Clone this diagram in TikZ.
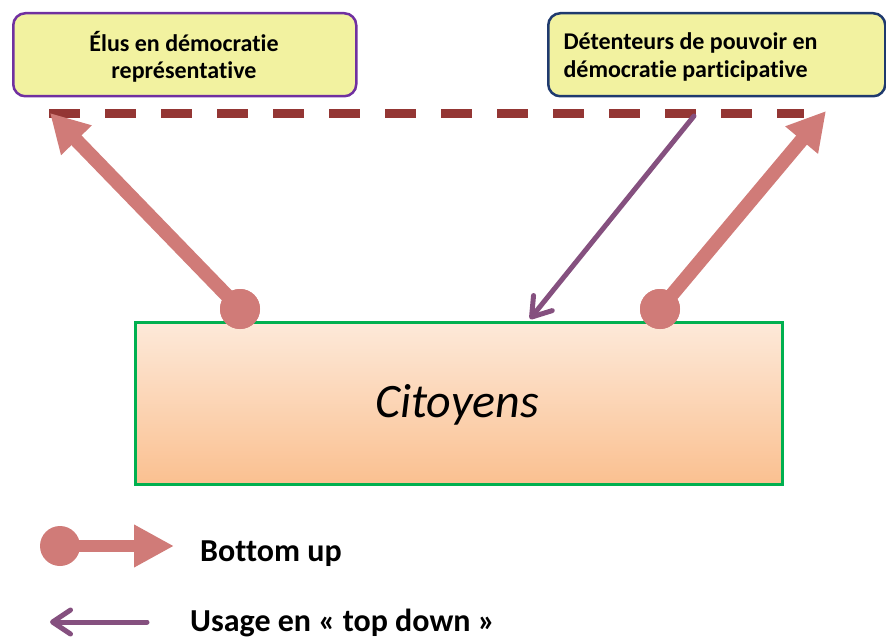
\documentclass[tikz,border=0pt]{standalone}
\usepackage{fontspec}
\setmainfont{Carlito}[Ligatures={NoCommon}]
\usetikzlibrary{arrows.meta}
\definecolor{boxfill}{HTML}{F2F2A0}
\definecolor{elusborder}{HTML}{7030A0}
\definecolor{detborder}{HTML}{1F3A6E}
\definecolor{dashred}{HTML}{943634}
\definecolor{pinkarr}{HTML}{D07B78}
\definecolor{purparr}{HTML}{85507F}
\definecolor{citborder}{HTML}{00B050}
\definecolor{cittop}{HTML}{FDE9D9}
\definecolor{citbot}{HTML}{FAC090}
\tikzset{
  topbox/.style={rectangle, rounded corners=12pt, fill=boxfill, line width=2.5pt, anchor=north west, inner sep=0pt},
  boxtext/.style={font=\fontsize{24}{27.5}\selectfont\bfseries},
  citbox/.style={rectangle, draw=citborder, line width=3pt, top color=cittop, bottom color=citbot, anchor=north west, inner sep=0pt},
  dot/.style={circle, fill=pinkarr, minimum size=40pt, inner sep=0pt},
  bottomup/.style={draw=pinkarr, line width=14pt, -{Triangle[length=38pt, width=40pt]}, fill=pinkarr},
  topdown/.style={draw=purparr, line width=5pt, line cap=round, -{Straight Barb[length=18pt, width=24pt, round]}},
  dashline/.style={draw=dashred, line width=9pt, dash pattern=on 31pt off 25pt},
  legtext/.style={anchor=base west, font=\fontsize{32}{38}\selectfont\bfseries, inner sep=0pt}
}
\begin{document}
\begin{tikzpicture}[x=1pt,y=-1pt]
\useasboundingbox (0,0) rectangle (886,639);
% top boxes
\node[topbox, draw=elusborder, minimum width=343pt, minimum height=83pt] (elus) at (12,12) {};
\node[boxtext, align=center] (elustxt) at (184,57) {Élus en démocratie\\représentative};
\node[topbox, draw=detborder, minimum width=337pt, minimum height=83pt] (det) at (547,12) {};
\node[boxtext, align=left, anchor=west] (dettxt) at (560,57) {Détenteurs de pouvoir en\\démocratie participative};
% dashed line
\coordinate (dl) at (49,114);
\coordinate (dr) at (804,114);
\draw[dashline] (dl) -- (dr);
% citizens box
\node[citbox, minimum width=647pt, minimum height=162pt] (cit) at (134,321) {};
\node[font=\fontsize{48}{54}\selectfont\itshape] (cittxt) at (457,405) {Citoyens};
% arrows
\coordinate (ltip) at (50,113);
\coordinate (rtip) at (826,111);
\coordinate (ptop) at (694,116);
\coordinate (ptip) at (530,319);
\node[dot] (lc) at (240,309) {};
\node[dot] (rc) at (660,309) {};
\draw[bottomup] (lc.center) -- (ltip);
\draw[bottomup] (rc.center) -- (rtip);
\node[dot] at (lc) {};
\node[dot] at (rc) {};
\draw[topdown] (ptop) -- (ptip);
% legend
\node[dot] (legc) at (60,546) {};
\coordinate (legtip) at (174,546);
\draw[bottomup, line width=12pt, -{Triangle[length=40pt, width=40pt]}] (legc.center) -- (legtip);
\node[legtext] (bu) at (200,561) {Bottom up};
\coordinate (pstart) at (147,622);
\coordinate (pend) at (50,622);
\draw[topdown] (pstart) -- (pend);
\node[legtext] (td) at (190,631) {Usage en « top down »};
\end{tikzpicture}
\end{document}
